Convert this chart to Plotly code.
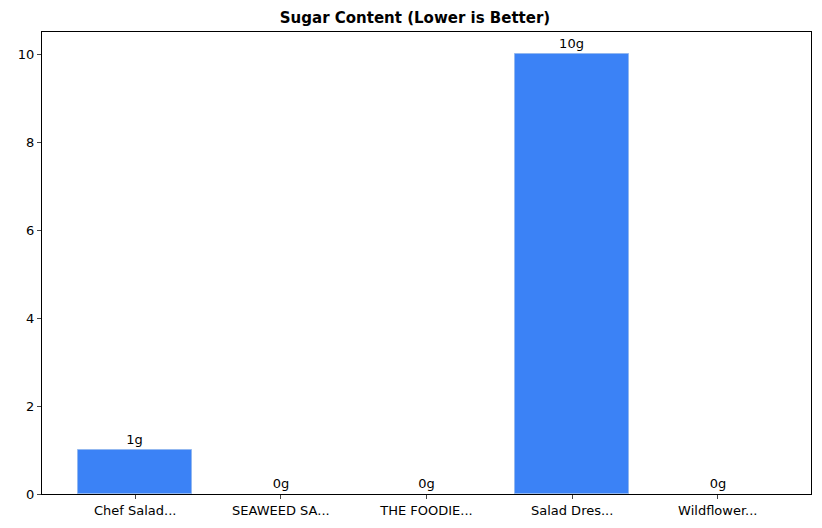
import plotly.graph_objects as go

categories = ["Chef Salad...", "SEAWEED SA...", "THE FOODIE...", "Salad Dres...", "Wildflower..."]
sugar = [1, 0, 0, 10, 0]
labels = [f"{v}g" for v in sugar]

fig = go.Figure(go.Bar(
    x=list(range(len(categories))), y=sugar, width=0.78,
    marker=dict(color="#3b82f6", line=dict(color="#93b8f0", width=[1 if v else 0 for v in sugar])),
    text=labels, textposition="outside", cliponaxis=False,
    textfont=dict(size=13, color="black"),
))
fig.update_layout(
    width=814, height=520,
    margin=dict(l=29, r=10, t=24, b=34),
    paper_bgcolor="white", plot_bgcolor="white",
    font=dict(family="DejaVu Sans", size=13, color="black"),
    title=dict(text="<b>Sugar Content (Lower is Better)</b>", x=0.5, xanchor="center",
               y=1 - 10/520, yanchor="middle", font=dict(size=15)),
    showlegend=False, bargap=0,
)
fig.update_xaxes(range=[-0.64, 4.64], tickvals=list(range(len(categories))), ticktext=categories,
                 showline=True, linecolor="black", mirror=True, ticks="outside", ticklen=4,
                 showgrid=False, zeroline=False)
fig.update_yaxes(range=[0, 10.5], tickvals=[0, 2, 4, 6, 8, 10],
                 showline=True, linecolor="black", mirror=True, ticks="outside", ticklen=4,
                 showgrid=False, zeroline=False)
fig.write_html("out.html")
